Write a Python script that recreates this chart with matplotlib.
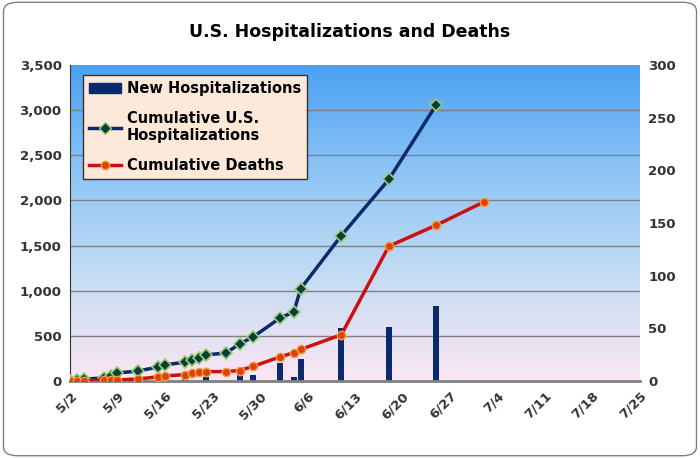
import numpy as np
import matplotlib.pyplot as plt
from matplotlib.patches import FancyBboxPatch, Patch
from matplotlib.lines import Line2D
from matplotlib.colors import LinearSegmentedColormap

# days since 5/2
hosp_days = [0, 1, 2, 5, 6, 7, 10, 13, 14, 17, 18, 19, 20, 23, 25, 27, 31, 33, 34, 40, 47, 54]
hosp_cum = [0, 11, 22, 33, 55, 89, 111, 155, 178, 211, 233, 255, 289, 311, 411, 489, 700, 766, 1022, 1611, 2233, 3060]
death_days = [0, 1, 2, 5, 6, 7, 10, 13, 14, 17, 18, 19, 20, 23, 25, 27, 31, 33, 34, 40, 47, 54, 61]
death_cum = [0, 0, 0, 1, 1, 1, 2, 4, 5, 6, 8, 9, 9, 9, 10, 14, 23, 27, 30, 44, 128, 148, 170]
bar_days = [17, 20, 25, 27, 31, 33, 34, 40, 47, 54]
bar_vals = [20, 44, 107, 70, 200, 44, 244, 589, 600, 833]
tick_labels = ["5/2", "5/9", "5/16", "5/23", "5/30", "6/6", "6/13", "6/20", "6/27", "7/4", "7/11", "7/18", "7/25"]

fig = plt.figure(figsize=(7, 4.58), dpi=100)
fig.patch.set_facecolor("white")
fig.patches.append(FancyBboxPatch((0.005, 0.005), 0.99, 0.99, boxstyle="round,pad=0,rounding_size=0.02",
                                  transform=fig.transFigure, fill=False, ec="#808080", lw=1))
ax = fig.add_axes([0.1, 0.168, 0.814, 0.69])
ax.set_xlim(0, 84)
ax.set_ylim(0, 3500)
grad = np.linspace(0, 1, 256).reshape(-1, 1)
cmap = LinearSegmentedColormap.from_list("bg", ["#fbe6f2", "#c4dcf4", "#8cc4f6", "#4aa0f2"])
ax.imshow(grad, extent=[0, 84, 0, 3500], origin="lower", aspect="auto", cmap=cmap, zorder=0)
for y in range(500, 3500, 500):
    ax.axhline(y, color="#808080", lw=1, zorder=1)

ax.bar(bar_days, bar_vals, width=0.9, color="#0a2a6a", zorder=2)
ax.plot(hosp_days, hosp_cum, color="#0a2a6a", lw=2.5, marker="D", ms=6,
        mfc="#0a3d3d", mec="#9acd70", mew=1.2, zorder=4)
ax2 = ax.twinx()
ax2.set_ylim(0, 300)
ax2.plot(death_days, death_cum, color="#cc1010", lw=2.5, marker="o", ms=6,
         mfc="#e04010", mec="#f0a040", mew=1, zorder=4)

ax.set_xticks(range(0, 85, 7))
ax.set_xticklabels(tick_labels, rotation=45, ha="right", rotation_mode="anchor",
                   fontsize=9.5, fontweight="bold", color="#333333")
ax.set_yticks(range(0, 3501, 500))
ax.set_yticklabels([f"{v:,}" for v in range(0, 3501, 500)], fontsize=9.5, fontweight="bold", color="#333333")
ax2.set_yticks(range(0, 301, 50))
ax2.set_yticklabels([str(v) for v in range(0, 301, 50)], fontsize=9.5, fontweight="bold", color="#333333")
ax.tick_params(length=0, pad=6)
ax2.tick_params(length=0, pad=6)
for a in (ax, ax2):
    for s in a.spines.values():
        s.set_visible(False)
ax.spines["left"].set_visible(True)
ax.spines["bottom"].set_visible(True)
ax.spines["left"].set_color("#333333")
ax.spines["bottom"].set_color("#808080")
ax.spines["bottom"].set_linewidth(2)

handles = [Patch(color="#0a2a6a"),
           Line2D([], [], color="#0a2a6a", lw=2.5, marker="D", ms=6, mfc="#0a3d3d", mec="#9acd70"),
           Line2D([], [], color="#cc1010", lw=2.5, marker="o", ms=6, mfc="#e04010", mec="#f0a040")]
leg = ax2.legend(handles, ["New Hospitalizations", "Cumulative U.S.\nHospitalizations", "Cumulative Deaths"],
                 loc="upper left", bbox_to_anchor=(0.01, 0.99), frameon=True,
                 prop={"family": "Liberation Sans Narrow", "size": 10.5, "weight": "bold"},
                 fancybox=False, edgecolor="#333333", facecolor="#fde9d9", framealpha=1,
                 labelspacing=1.0, handlelength=2.2, handletextpad=0.4)
leg.get_frame().set_linewidth(1)
fig.suptitle("U.S. Hospitalizations and Deaths", y=0.95, fontsize=12.5, fontweight="bold")
fig.savefig("out.png", dpi=100)
